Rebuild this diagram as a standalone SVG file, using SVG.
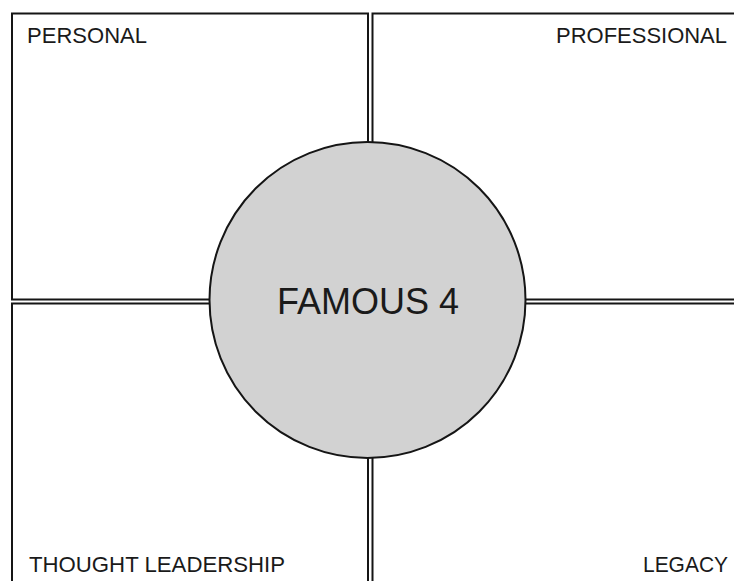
<svg xmlns="http://www.w3.org/2000/svg" width="734" height="581" viewBox="0 0 734 581">
  <style>
    .quad { fill: #ffffff; stroke: #151515; stroke-width: 2; }
    .label { font-family: "Liberation Sans", Arial, sans-serif; font-size: 22px; fill: #1a1a1a; }
    .hub { fill: #d2d2d2; stroke: #151515; stroke-width: 2; }
    .hub-text { font-family: "Liberation Sans", Arial, sans-serif; font-size: 36px; fill: #1a1a1a; }
  </style>
  <rect width="734" height="581" fill="#ffffff"/>

  <g id="quadrant-personal">
    <rect class="quad" x="12" y="13.5" width="356" height="286"/>
    <text class="label" x="27" y="43" textLength="120" lengthAdjust="spacingAndGlyphs">PERSONAL</text>
  </g>

  <g id="quadrant-professional">
    <rect class="quad" x="372.5" y="13.5" width="370" height="286"/>
    <text class="label" x="556" y="43" textLength="171" lengthAdjust="spacingAndGlyphs">PROFESSIONAL</text>
  </g>

  <g id="quadrant-thought-leadership">
    <rect class="quad" x="12" y="303.5" width="356" height="290"/>
    <text class="label" x="29" y="572" textLength="256" lengthAdjust="spacingAndGlyphs">THOUGHT LEADERSHIP</text>
  </g>

  <g id="quadrant-legacy">
    <rect class="quad" x="372.5" y="303.5" width="370" height="290"/>
    <text class="label" x="643" y="572" textLength="85" lengthAdjust="spacingAndGlyphs">LEGACY</text>
  </g>

  <g id="connectors"></g>

  <g id="hub-famous-4">
    <circle class="hub" cx="367.5" cy="300" r="158"/>
    <text class="hub-text" x="277" y="314" textLength="182" lengthAdjust="spacingAndGlyphs">FAMOUS 4</text>
  </g>
</svg>
